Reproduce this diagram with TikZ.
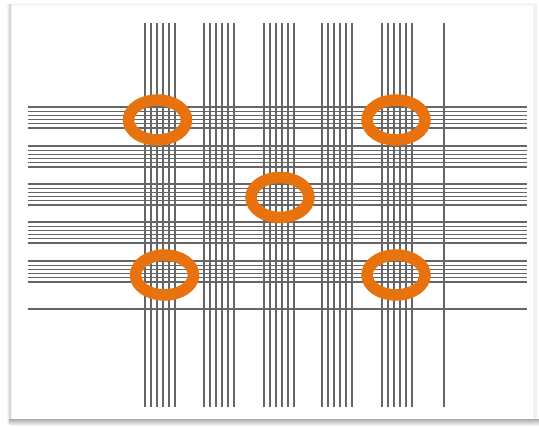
\documentclass[tikz,border=0pt]{standalone}
\begin{document}
\begin{tikzpicture}[x=1pt,y=-1pt,
  gridline/.style={draw=black!60,line width=1.1pt},
  ring/.style={draw=ringorange,line width=11.5pt},
]
\definecolor{ringorange}{RGB}{232,114,14}
\useasboundingbox (0,0) rectangle (539,427);
\fill[white] (0,0) rectangle (539,427);
% frame shadow
\fill[black!4] (10,3) rectangle (537,6);
\fill[black!5] (533,4) rectangle (537,423);
\shade[left color=white,right color=black!22] (6,5) rectangle (11,424);
\shade[top color=black!28,bottom color=white] (9,420) rectangle (539,426);
\fill[white] (12,7) rectangle (533,419);
% vertical line groups
\foreach \gx in {145,204,264,322,382}{
  \foreach \i in {0,...,5}{
    \draw[gridline] (\gx+6*\i,23) -- (\gx+6*\i,407);
  }
}
\draw[gridline] (444,23) -- (444,407);
% horizontal line groups
\foreach \gy in {107,146,184,222,261}{
  \foreach \i in {0,...,5}{
    \draw[gridline] (28,\gy+4.2*\i) -- (527,\gy+4.2*\i);
  }
}
\draw[gridline] (28,309) -- (527,309);
% rings
\coordinate (tl) at (157.5,120);
\coordinate (tr) at (396,120);
\coordinate (c) at (280,197.5);
\coordinate (bl) at (164.5,275);
\coordinate (br) at (396,275);
\foreach \p in {tl,tr,c,bl,br}{
  \draw[ring] (\p) ellipse [x radius=29,y radius=20];
}
\end{tikzpicture}
\end{document}
